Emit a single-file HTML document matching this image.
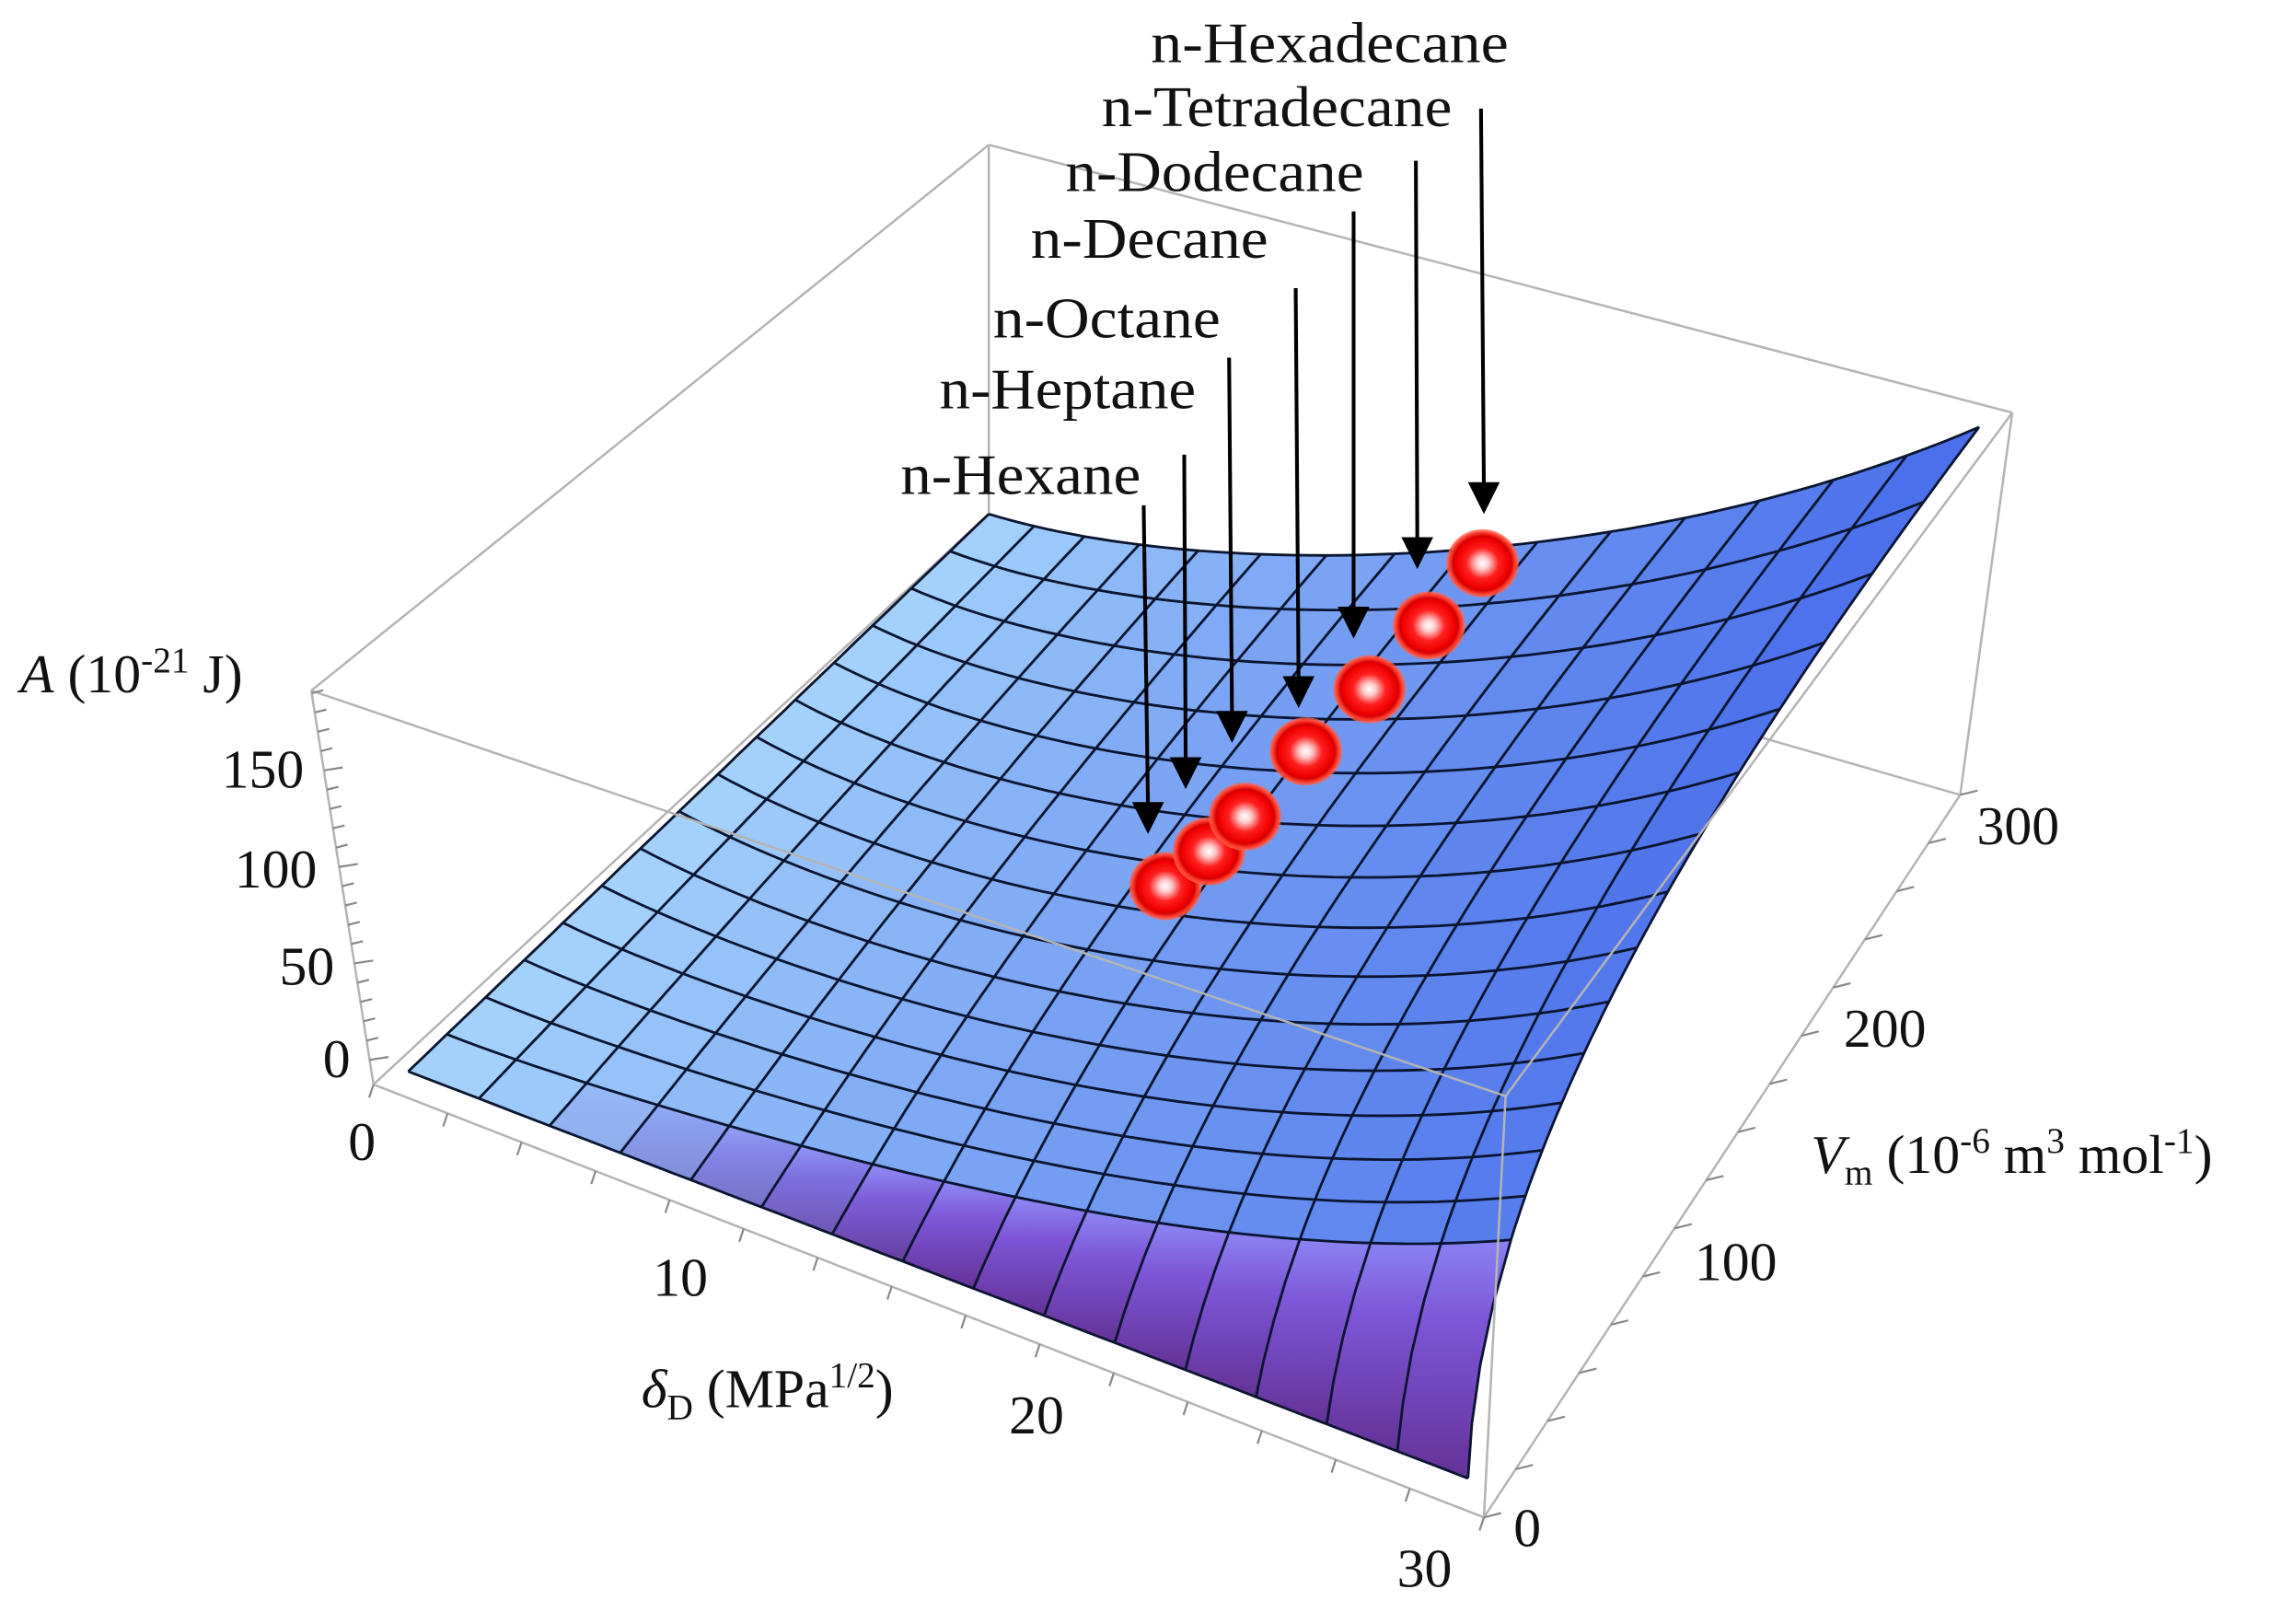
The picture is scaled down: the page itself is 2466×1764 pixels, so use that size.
<!DOCTYPE html>
<html><head><meta charset="utf-8"><style>
html,body{margin:0;padding:0;background:#fff;}
svg{display:block;}
text{font-family:"Liberation Serif","DejaVu Serif",serif;fill:#111;}
</style></head><body>
<svg id="s" width="2466" height="1764" viewBox="0 0 1568 1121.6" xmlns="http://www.w3.org/2000/svg">
<defs>
<radialGradient id="ball" cx="50%" cy="50%" r="50%">
<stop offset="0" stop-color="#ffffff"/>
<stop offset="0.18" stop-color="#ffc8c8"/>
<stop offset="0.45" stop-color="#ff2020"/>
<stop offset="0.72" stop-color="#f00000"/>
<stop offset="0.8" stop-color="#d40000"/>
<stop offset="0.9" stop-color="#ff3a2a"/>
<stop offset="1" stop-color="#ff6a50" stop-opacity="0.7"/>
</radialGradient>
</defs>
<g id="back" stroke="#b4b4b4" stroke-width="1.6" fill="none">
<line x1="683" y1="100" x2="215" y2="477"/>
<line x1="683" y1="100" x2="1390" y2="285"/>
<line x1="683" y1="100" x2="683" y2="355"/>
<line x1="1390" y1="285" x2="1354" y2="549"/>
<line x1="1354" y1="549" x2="683" y2="355"/>
<line x1="683" y1="355" x2="258" y2="749"/>
</g>
<g id="surf"></g>
<g id="grid" fill="none" stroke="#0b1530" stroke-width="1.8"></g>
<g id="front" stroke="#b4b4b4" stroke-width="1.6" fill="none">
<line x1="215" y1="477" x2="1040" y2="757"/>
<line x1="1040" y1="757" x2="1390" y2="285"/>
<line x1="215" y1="477" x2="258" y2="749"/>
<line x1="258" y1="749" x2="1025" y2="1048"/>
<line x1="1040" y1="757" x2="1025" y2="1048"/>
<line x1="1025" y1="1048" x2="1354" y2="549"/>
</g>
<g id="ticks" stroke="#888" stroke-width="1.4"></g>
<g id="balls"></g>
<g id="arrows"></g>
<g font-size="40">
<text x="795" y="43" textLength="247" lengthAdjust="spacingAndGlyphs">n-Hexadecane</text>
<text x="761" y="87" textLength="242" lengthAdjust="spacingAndGlyphs">n-Tetradecane</text>
<text x="736" y="132" textLength="206" lengthAdjust="spacingAndGlyphs">n-Dodecane</text>
<text x="712" y="178" textLength="164" lengthAdjust="spacingAndGlyphs">n-Decane</text>
<text x="686" y="233" textLength="157" lengthAdjust="spacingAndGlyphs">n-Octane</text>
<text x="649" y="282" textLength="177" lengthAdjust="spacingAndGlyphs">n-Heptane</text>
<text x="622" y="341" textLength="166" lengthAdjust="spacingAndGlyphs">n-Hexane</text>
</g>
<g font-size="38">
<text x="14" y="478"><tspan font-style="italic">A</tspan> (10<tspan font-size="25" dy="-14">-21</tspan><tspan dy="14"> J)</tspan></text>
<text x="210" y="544" text-anchor="end">150</text>
<text x="219" y="613" text-anchor="end">100</text>
<text x="231" y="680" text-anchor="end">50</text>
<text x="242" y="744" text-anchor="end">0</text>
<text x="250" y="801" text-anchor="middle">0</text>
<text x="470" y="895" text-anchor="middle">10</text>
<text x="716" y="990" text-anchor="middle">20</text>
<text x="984" y="1096" text-anchor="middle">30</text>
<text x="443" y="972"><tspan font-style="italic">δ</tspan><tspan font-size="25" dy="8">D</tspan><tspan dy="-8"> (MPa</tspan><tspan font-size="25" dy="-14">1/2</tspan><tspan dy="14">)</tspan></text>
<text x="1055" y="1068" text-anchor="middle">0</text>
<text x="1199" y="884" text-anchor="middle">100</text>
<text x="1302" y="723" text-anchor="middle">200</text>
<text x="1394" y="583" text-anchor="middle">300</text>
<text x="1251" y="810"><tspan font-style="italic">V</tspan><tspan font-size="25" dy="8">m</tspan><tspan dy="-8"> (10</tspan><tspan font-size="25" dy="-14">-6</tspan><tspan dy="14"> m</tspan><tspan font-size="25" dy="-14">3</tspan><tspan dy="14"> mol</tspan><tspan font-size="25" dy="-14">-1</tspan><tspan dy="14">)</tspan></text>
</g>
</svg>
<script>
(function(){
var NS="http://www.w3.org/2000/svg";
function el(tag,attrs,parent){var e=document.createElementNS(NS,tag);for(var k in attrs)e.setAttribute(k,attrs[k]);parent.appendChild(e);return e;}
function bez(P){return function(t){var a=(1-t)*(1-t)*(1-t),b=3*t*(1-t)*(1-t),c=3*t*t*(1-t),d=t*t*t;
 return [a*P[0][0]+b*P[1][0]+c*P[2][0]+d*P[3][0],a*P[0][1]+b*P[1][1]+c*P[2][1]+d*P[3][1]];};}
var F0=[282,740],F1=[1014,1021],B0=[683,355],B1=[1367,295];
var F=function(u){return [F0[0]+(F1[0]-F0[0])*u,F0[1]+(F1[1]-F0[1])*u];};
var B=bez([B0,[830,400],[1120,400],B1]);
var Lf=function(s){return [F0[0]+(B0[0]-F0[0])*s,F0[1]+(B0[1]-F0[1])*s];};
var R=bez([F1,[1020,860],[1100,650],B1]);
function sv(u,v){var a=1/15+Math.pow(u,1.5)*0.24;var v1=1/15;if(v<=v1)return a*v/v1;return a+(1-a)*(v-v1)/(1-v1);}
function S(u,v){var s=sv(u,v);var f=F(u),b=B(u),l=Lf(s),r=R(s);var r2=[];
 for(var k=0;k<2;k++){r2.push((1-s)*f[k]+s*b[k]+(1-u)*l[k]+u*r[k]-((1-u)*(1-s)*F0[k]+u*(1-s)*F1[k]+(1-u)*s*B0[k]+u*s*B1[k]));}
 return r2;}
function mix(a,b,t){return [0,1,2].map(function(i){return Math.round(a[i]+(b[i]-a[i])*t);});}
function rgb(c){return "rgb("+c.join(",")+")";}
var surf=document.getElementById("surf"),grid=document.getElementById("grid");
var defs=document.querySelector("defs");
var N=15,M=15,sub=6;
var light=[168,214,252],dark=[72,108,234];
for(var i=0;i<N;i++){
 for(var j=0;j<M;j++){
  var pts=[],u0=i/N,u1=(i+1)/N,v0=j/M,v1=(j+1)/M,k;
  for(k=0;k<=sub;k++)pts.push(S(u0+(u1-u0)*k/sub,v0));
  for(k=0;k<=sub;k++)pts.push(S(u1,v0+(v1-v0)*k/sub));
  for(k=sub;k>=0;k--)pts.push(S(u0+(u1-u0)*k/sub,v1));
  for(k=sub;k>=0;k--)pts.push(S(u0,v0+(v1-v0)*k/sub));
  var um=(i+0.5)/N,vm=(j+0.5)/M;
  var base=mix(light,dark,Math.pow(um,0.85)*0.85+0.15*vm*um);
  var fill;
  if(j==0){
   var id="g"+i;
   var g=el("linearGradient",{id:id,x1:"0",y1:"0",x2:"0",y2:"1"},defs);
   var pw=Math.min(1,Math.max(0,(um-0.12)/0.35));
   var top=mix(base,[150,130,245],pw*0.8);
   var mid=mix(base,[125,85,215],pw);
   var bot=mix(base,[100,50,150],pw);
   el("stop",{offset:"0","stop-color":rgb(top)},g);
   el("stop",{offset:"0.35","stop-color":rgb(mid)},g);
   el("stop",{offset:"1","stop-color":rgb(bot)},g);
   fill="url(#"+id+")";
  } else fill=rgb(base);
  el("path",{d:"M"+pts.map(function(p){return p[0].toFixed(1)+","+p[1].toFixed(1);}).join("L")+"Z",fill:fill,stroke:fill,"stroke-width":"0.6"},surf);
 }
}
var K=60;
for(var i=0;i<=N;i++){var p=[];for(var k=0;k<=K;k++)p.push(S(i/N,k/K));
 el("path",{d:"M"+p.map(function(q){return q[0].toFixed(1)+","+q[1].toFixed(1);}).join("L")},grid);}
for(var j=0;j<=M;j++){var p=[];for(var k=0;k<=K;k++)p.push(S(k/K,j/M));
 el("path",{d:"M"+p.map(function(q){return q[0].toFixed(1)+","+q[1].toFixed(1);}).join("L")},grid);}
var tk=document.getElementById("ticks");
function ticks(a,b,n,dx,dy){for(var i=0;i<=n;i++){var t=i/n,x=a[0]+(b[0]-a[0])*t,y=a[1]+(b[1]-a[1])*t;el("line",{x1:x,y1:y,x2:x+dx,y2:y+dy},tk);}}
ticks([258,749],[1025,1048],15,-3,9);
ticks([1025,1048],[1354,549],15,12,-3);
for(var a=0;a<=190;a+=10){var y=732-a*1.333;var x=215+(y-477)*(43/272);var l=(a%50==0)?13:8;el("line",{x1:x,y1:y,x2:x+l,y2:y-2},tk);}
var bg=document.getElementById("balls");
[[805,612],[835,588],[860,564],[902,519],[946,476],[987,432],[1024,389]].forEach(function(c){
 el("ellipse",{cx:c[0],cy:c[1],rx:25,ry:23.5,fill:"url(#ball)"},bg);});
var ag=document.getElementById("arrows");
[[790,349,793,576],[818,314,819,545],[849,247,851,513],[895,199,897,489],[935,146,935,441],[978,111,979,393],[1023,75,1025,355]].forEach(function(a){
 el("line",{x1:a[0],y1:a[1],x2:a[2],y2:a[3]-18,stroke:"#000","stroke-width":"2.6"},ag);
 el("polygon",{points:(a[2]-11)+","+(a[3]-22)+" "+(a[2]+11)+","+(a[3]-22)+" "+a[2]+","+a[3],fill:"#000"},ag);});
})();
</script>
</body></html>
